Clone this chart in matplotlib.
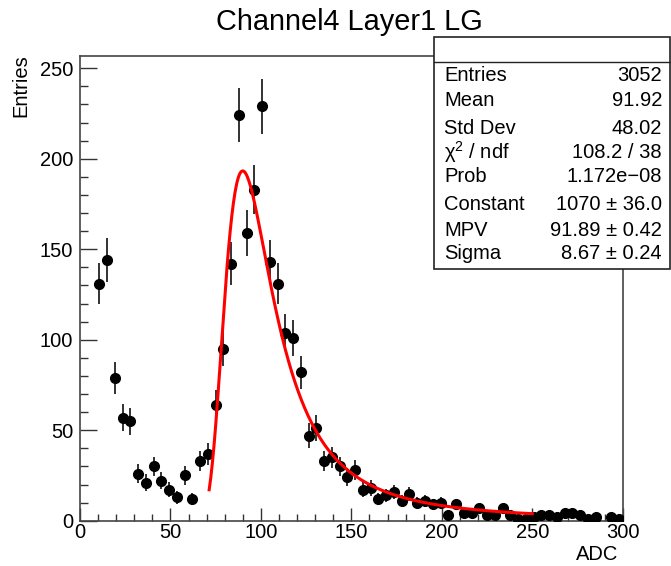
import numpy as np
import matplotlib
matplotlib.use('Agg')
import matplotlib.pyplot as plt
from matplotlib.patches import Rectangle

plt.rcParams['font.family'] = ['Liberation Sans', 'DejaVu Sans']
plt.rcParams['mathtext.fontset'] = 'custom'
plt.rcParams['mathtext.rm'] = 'Liberation Sans'

# histogram: 70 bins from 0 to 300 ADC, empty bins left out
n_bins = 70
x_range = (0, 300)
counts = [0, 0, 131, 144, 79, 57, 55, 26, 21, 30,
          22, 17, 13, 25, 12, 33, 37, 64, 95, 142,
          224, 159, 183, 229, 143, 131, 104, 101, 82, 47,
          51, 33, 35, 30, 24, 28, 17, 18, 12, 14,
          16, 11, 15, 10, 11, 9, 10, 3, 9, 4,
          4, 7, 3, 3, 7, 3, 1, 1, 2, 3,
          3, 2, 4, 4, 3, 1, 2, 0, 2, 1]

# landau fit result
fit_const, fit_mpv, fit_sigma = 1070.0, 91.89, 8.67
fit_range = (71.4, 250.0)

title = 'Channel4 Layer1 LG'
stats_labels = ['Entries', 'Mean', 'Std Dev', '\u03c7$^{\\rm 2}$ / ndf', 'Prob',
                'Constant', 'MPV', 'Sigma']
stats_values = ['3052', '91.92', '48.02', '108.2 / 38', '1.172e\u221208',
                '1070 \u00b1 36.0', '91.89 \u00b1 0.42', '8.67 \u00b1 0.24']


def landau(lam):
    # ROOT denlan: (1/pi) * int_0^inf exp(-t ln t - lam t) sin(pi t) dt
    t = np.linspace(1e-9, 40, 40001)
    out = []
    for l in lam:
        f = np.exp(-t * np.log(t) - l * t) * np.sin(np.pi * t)
        out.append(np.trapezoid(f, t) / np.pi)
    return np.array(out)


W, H = 671, 566
fs = 14.5
fig = plt.figure(figsize=(W / 100, H / 100), dpi=100)
ax = fig.add_axes([80 / W, 1 - 520.7 / H, (622.7 - 80) / W, (520.7 - 56) / H])

edges = np.linspace(x_range[0], x_range[1], n_bins + 1)
centers = 0.5 * (edges[:-1] + edges[1:])
counts = np.array(counts, dtype=float)
keep = counts > 0
ax.errorbar(centers[keep], counts[keep], yerr=np.sqrt(counts[keep]), fmt='o',
            color='black', ecolor='#222222', elinewidth=1.3, markersize=7,
            capsize=0, zorder=3)

xf = np.linspace(fit_range[0], fit_range[1], 400)
yf = fit_const * landau((xf - fit_mpv) / fit_sigma)
ax.plot(xf, yf, color='#ff0000', lw=2.2, zorder=4)

ax.set_xlim(x_range)
ax.set_ylim(0, 256.8)
ax.set_xticks(np.arange(0, 301, 50))
ax.set_xticks(np.arange(0, 301, 10), minor=True)
ax.set_yticks(np.arange(0, 251, 50))
ax.set_yticks(np.arange(0, 251, 10), minor=True)
ax.tick_params(axis='both', which='both', direction='in', colors='#333333',
               labelcolor='black', labelsize=fs, width=1.0)
ax.tick_params(axis='x', which='major', length=9.5, pad=2)
ax.tick_params(axis='x', which='minor', length=4.8)
ax.tick_params(axis='y', which='major', length=12, pad=5)
ax.tick_params(axis='y', which='minor', length=6)
for s in ax.spines.values():
    s.set_color('#444444')
    s.set_linewidth(1.2)

fig.text(349 / W, 1 - 22 / H, title, ha='center', va='center', fontsize=20.8)
fig.text(21 / W, 1 - 54 / H, 'Entries', rotation=90, ha='center', va='top',
         fontsize=fs)
fig.text(618 / W, 1 - 555 / H, 'ADC', ha='right', va='center', fontsize=fs)

# stats box
x0, x1, y0, y1 = 433.5, 670, 36.7, 269
fig.patches.append(Rectangle((x0 / W, 1 - y1 / H), (x1 - x0) / W, (y1 - y0) / H,
                             transform=fig.transFigure, facecolor='white',
                             edgecolor='#222222', lw=1.2, zorder=5))
fig.add_artist(plt.Line2D([x0 / W, x1 / W], [1 - 62.3 / H, 1 - 62.3 / H],
                          transform=fig.transFigure, color='#222222', lw=1.0,
                          zorder=6))
row_y = [75, 100, 128, 152, 177, 205, 231, 253]
for lab, val, ry in zip(stats_labels, stats_values, row_y):
    fig.text(444 / W, 1 - ry / H, lab, ha='left', va='center', fontsize=fs,
             zorder=7)
    fig.text(662 / W, 1 - ry / H, val, ha='right', va='center', fontsize=fs,
             zorder=7)

fig.savefig('out.png', dpi=100)
